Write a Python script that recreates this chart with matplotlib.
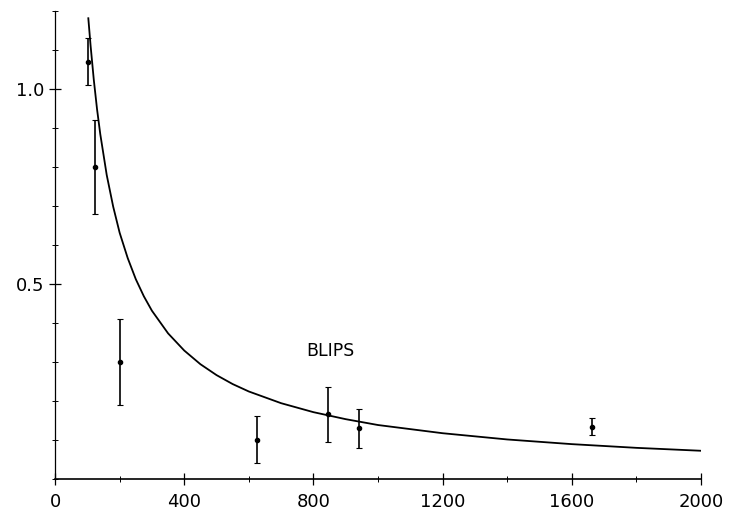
#!/usr/bin/env python3
"""BLIPS: measured points with error bars and a falling fit curve."""

import matplotlib.pyplot as plt
from matplotlib.ticker import MultipleLocator

pt_x = [102, 124, 200, 625, 845, 941, 1662]
pt_y = [1.07, 0.80, 0.30, 0.10, 0.165, 0.13, 0.134]
pt_err = [0.06, 0.12, 0.11, 0.06, 0.07, 0.05, 0.022]

# fit curve
curve_x = [103, 110, 120, 130, 140, 160, 180, 200, 225, 250, 275, 300, 350,
           400, 450, 500, 550, 600, 700, 800, 900, 1000, 1200, 1400, 1600,
           1800, 2000]
curve_y = [1.181, 1.111, 1.023, 0.948, 0.884, 0.779, 0.698, 0.631, 0.566,
           0.512, 0.468, 0.431, 0.373, 0.329, 0.294, 0.266, 0.243, 0.224,
           0.194, 0.171, 0.153, 0.138, 0.117, 0.101, 0.089, 0.0795, 0.072]

x_ticks = [0, 400, 800, 1200, 1600, 2000]
y_ticks = [0.5, 1.0]
y_labels = ['0.5', '1.0']


def main():
    fig = plt.figure(figsize=(7.34, 5.16), dpi=100)
    ax = fig.add_axes([0.075, 0.072, 0.88, 0.907])

    ax.plot(curve_x, curve_y, color='black', linewidth=1.3)
    ax.errorbar(pt_x, pt_y, yerr=pt_err, fmt='o', color='black',
                markersize=3, elinewidth=1.2, capsize=2, capthick=0.8)

    ax.text(851, 0.327, 'BLIPS', ha='center', va='center', fontsize=12.5)

    ax.set_xlim(0, 2000)
    ax.set_ylim(0, 1.2)
    ax.set_xticks(x_ticks)
    ax.set_xticklabels([str(t) for t in x_ticks])
    ax.xaxis.set_minor_locator(MultipleLocator(200))
    ax.set_yticks(y_ticks)
    ax.set_yticklabels(y_labels)
    ax.yaxis.set_minor_locator(MultipleLocator(0.1))

    ax.tick_params(which='major', direction='inout', length=8, width=0.9,
                   labelsize=13)
    ax.tick_params(axis='x', which='major', pad=6)
    ax.tick_params(axis='y', which='major', pad=4)
    ax.tick_params(which='minor', direction='inout', length=5, width=0.7)
    for side in ['top', 'right']:
        ax.spines[side].set_visible(False)
    ax.spines['left'].set_linewidth(0.9)
    ax.spines['bottom'].set_linewidth(1.2)

    plt.savefig('out.png', dpi=100)
    plt.close()


if __name__ == '__main__':
    main()
